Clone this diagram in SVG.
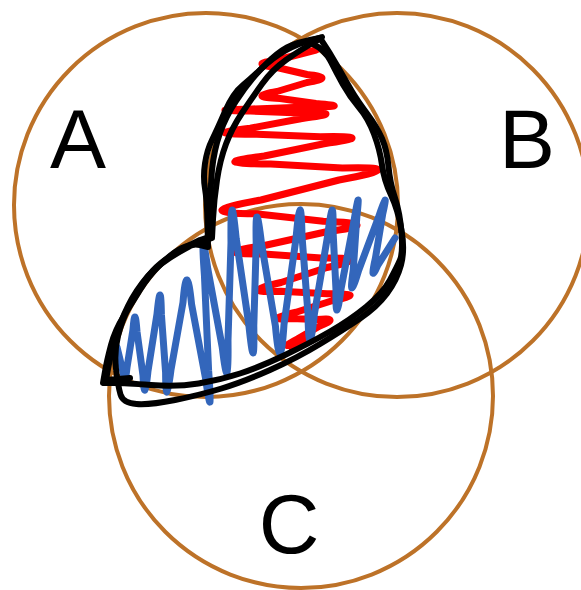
<svg xmlns="http://www.w3.org/2000/svg" width="581" height="590" viewBox="0 0 581 590">
<style>
.set{fill:none;stroke:#bd7228;stroke-width:4}
.lbl{font-family:"Liberation Sans",Arial,sans-serif;font-size:84px;fill:#000;text-anchor:middle}
.red{fill:none;stroke:#ff0000;stroke-width:7;stroke-linejoin:round;stroke-linecap:round}
.blue{fill:none;stroke:#3366bb;stroke-width:7;stroke-linejoin:round;stroke-linecap:round}
.ink{fill:none;stroke:#000;stroke-width:6;stroke-linejoin:round;stroke-linecap:round}
</style>
<rect width="581" height="590" fill="#fff"/>
<g id="setA"><circle class="set" cx="206" cy="205" r="192"/><text class="lbl" x="78" y="168">A</text></g>
<g id="setB"><circle class="set" cx="397" cy="205" r="192"/><text class="lbl" x="527" y="168">B</text></g>
<g id="setC"><circle class="set" cx="301" cy="396" r="192"/><text class="lbl" x="289" y="553">C</text></g>
<g id="connectors">
<path class="red" d="M316,50 L275.5,60.5 Q247.75,64 277,67.5 L307,74.5 Q337,77.5 307,82.5 L277,91.5 Q245.5,97 280,98.5 L316,103.5 Q356.6,106.75 306.75,107 L252.25,109 Q198.75,110 250.25,111 L300.75,113 Q351.25,112.1 300.75,118.75 L250.25,128.25 Q196.5,134.75 256.75,134.25 L320.25,136.75 Q382.5,135.6 322.75,144 L264.25,156 Q202.5,164 270.75,164 L342.25,168 Q415.4,166 339,180 L261,200 Q185.6,213.1 255.75,213.75 L323.25,221.25 Q389.1,223.5 326.5,231.75 L265.5,245.25 Q205.4,254.4 263.75,254 L321.25,258 Q375.9,257.25 327,267.5 L281,282.5 Q235,293.1 281,291.25 L327,293.75 Q370.5,292.75 332,300.75 L296,312.25 Q262.5,320.6 291,318.5 L317,319.5 Q341.9,317.1 319.25,326.25 L297.75,338.75 Q278.5,348.75 293.25,343.75 L305.75,341.25 Q317.6,338.4 307,342 L292,348"/>
<path class="blue" d="M117,347 L123.4,373.4 Q124.8,389.6 127,367.4 L133,329.6 Q135,303.4 137,331.6 L143,375.4 Q144.5,406.8 148,371 L157,314 Q160.8,275.8 161.4,314.4 L165.6,372.6 Q165.7,412.9 171,369.6 L183,302.4 Q186.7,256.6 191.6,304.4 L205.4,377.6 Q213,430.1 208.6,370.2 L204.4,274.8 Q199.9,214.1 207.8,269 L222.2,347 Q228.9,402.3 228,340.4 L231,242.6 Q230.4,179.4 236.2,238.6 L248.8,324.4 Q254.7,380.9 253.8,325.8 L256.2,244.2 Q255.1,189.8 261.6,244.2 L275.4,325.8 Q280.3,380.9 284,324.4 L296,238.6 Q301,182.7 302,236 L308,314 Q308.8,366 314.4,314 L327.6,236 Q333.7,187 333,230 L336,290 Q335.4,331 341.2,288 L353.8,222 Q360.7,180.2 356.8,217.6 L353.2,270.4 Q348.1,305.6 358.6,270.4 L378.4,217.6 Q389.5,183.9 382.6,214.6 L375.4,258.4 Q369.6,283.8 377.4,266 L395,238"/>
<path class="ink" d="M320,38 Q297,42 287,47.5 Q277,53 265,65 Q253,77 243,85 Q233,93 225,111.5 Q217,130 212,140 Q207,150 205,163.5 Q203,177 205,188.5 Q207,200 207.5,223.5 L208,247 L200,245 Q192,243 182,248 Q172,253 160,265 Q148,277 140,290 Q132,303 123.5,316.5 Q115,330 111,345 Q107,360 105,371.5 L103,383 L114,383 Q125,383 151,385 Q177,387 198.5,383.5 Q220,380 240,373.5 Q260,367 285,355 Q310,343 330,331.5 Q350,320 366.5,306.5 Q383,293 390,280 Q397,267 400,260 Q403,253 401.5,233 Q400,213 395,198 Q390,183 388.5,166.5 Q387,150 382,138.5 Q377,127 367,113.5 Q357,100 352,91.5 Q347,83 338.5,68 Q330,53 320,38"/>
<path class="ink" d="M322,37 L307,41.5 Q292,46 279,54.5 Q266,63 256,74.5 Q246,86 236,101 Q226,116 220,133 Q214,150 212,170 Q210,190 211,213 L212,236 L200,240 Q166,256 153,270.5 Q140,285 131,302.5 Q122,320 118,336 Q114,352 116,369 Q118,386 120.5,394.5 Q123,403 136.5,404 Q150,405 175,400 Q200,395 221.5,388.5 Q243,382 270,370 Q297,358 320,344 Q343,330 360,318.5 Q377,307 387,293.5 Q397,280 401,265 Q405,250 401.5,230 Q398,210 391,195 Q384,180 382,165 Q380,150 374,134 Q368,118 359,107.5 Q350,97 343,84.5 Q336,72 330.5,61 Q325,50 313,44"/>
<path class="ink" d="M318,40 Q300,50 286,60 Q272,70 262,84 Q252,98 242,113 Q232,128 226,144 Q220,160 217,180 Q214,200 213,219 L212,238 L190,246 Q160,262 148,276 Q136,290 128,306 Q120,322 115,340 Q110,358 108,369 L106,380 L130,378"/>
</g>
</svg>
